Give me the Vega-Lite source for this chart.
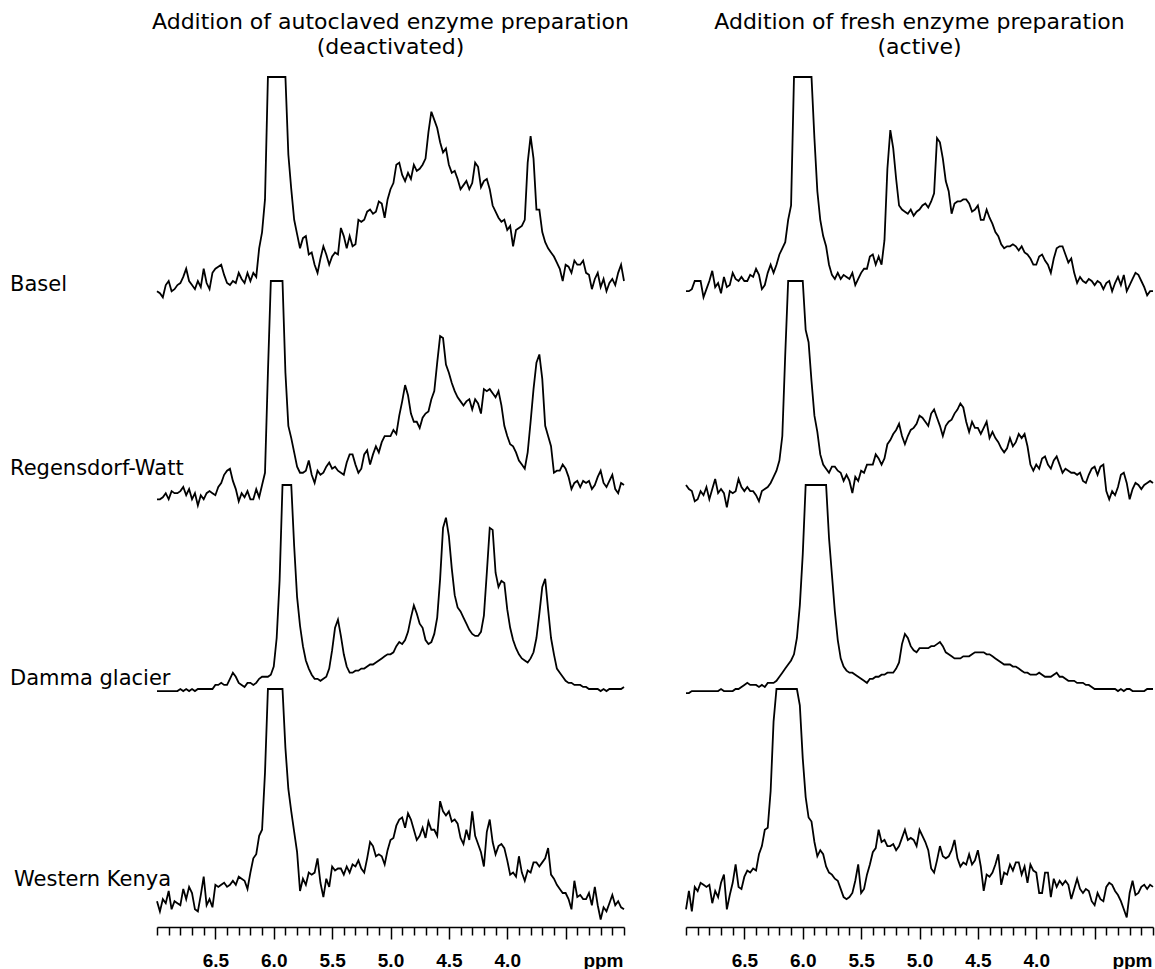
{
  "$schema": "https://vega.github.io/schema/vega-lite/v6.json",
  "background": "white",
  "autosize": {"type": "pad"},
  "padding": {"left": 10, "top": 11, "right": 0, "bottom": 0},
  "config": {
    "view": {"stroke": null},
    "font": "DejaVu Sans",
    "line": {"color": "black", "strokeWidth": 1.8},
    "text": {"color": "black", "font": "DejaVu Sans", "fontSize": 21},
    "title": {"color": "black", "font": "DejaVu Sans", "fontSize": 22, "fontWeight": "normal", "anchor": "middle", "offset": 14, "lineHeight": 25}
  },
  "datasets": {
    "spectra": [
      {"x":7,"b1":-5,"r1":-7,"d1":-1,"k1":-4,"b2":-5,"r2":0,"d2":-2,"k2":-8},
      {"x":6.975,"b1":-6,"r1":-7,"d1":-1,"k1":-9,"b2":-5,"r2":-2,"d2":-2,"k2":1},
      {"x":6.95,"b1":-8,"r1":-6,"d1":-1,"k1":-3,"b2":-4,"r2":-3,"d2":-1,"k2":-9},
      {"x":6.925,"b1":-2,"r1":-4,"d1":-1,"k1":-5,"b2":0,"r2":-8,"d2":-1,"k2":3},
      {"x":6.9,"b1":0,"r1":-7,"d1":-1,"k1":1,"b2":0,"r2":-7,"d2":-1,"k2":1},
      {"x":6.875,"b1":-5,"r1":-3,"d1":-1,"k1":-8,"b2":0,"r2":-3,"d2":-1,"k2":5},
      {"x":6.85,"b1":-4,"r1":-4,"d1":-1,"k1":-4,"b2":-8,"r2":-5,"d2":-1,"k2":4},
      {"x":6.825,"b1":-2,"r1":-4,"d1":-1,"k1":-5,"b2":-4,"r2":-1,"d2":-1,"k2":3},
      {"x":6.8,"b1":-1,"r1":-3,"d1":0,"k1":-6,"b2":0,"r2":-7,"d2":-1,"k2":4},
      {"x":6.775,"b1":2,"r1":-1,"d1":-1,"k1":2,"b2":5,"r2":-2,"d2":-1,"k2":-5},
      {"x":6.75,"b1":6,"r1":-5,"d1":0,"k1":-3,"b2":-3,"r2":3,"d2":-1,"k2":1},
      {"x":6.725,"b1":0,"r1":-2,"d1":-1,"k1":3,"b2":-1,"r2":-4,"d2":-1,"k2":-2},
      {"x":6.7,"b1":-2,"r1":-7,"d1":0,"k1":0,"b2":-6,"r2":-2,"d2":0,"k2":5},
      {"x":6.675,"b1":-4,"r1":-4,"d1":-1,"k1":-8,"b2":2,"r2":-4,"d2":-1,"k2":9},
      {"x":6.65,"b1":0,"r1":-10,"d1":0,"k1":-9,"b2":-3,"r2":-11,"d2":-1,"k2":-8},
      {"x":6.625,"b1":-3,"r1":-5,"d1":0,"k1":-1,"b2":-2,"r2":-3,"d2":-1,"k2":-1},
      {"x":6.6,"b1":6,"r1":-7,"d1":0,"k1":8,"b2":4,"r2":-4,"d2":-1,"k2":5},
      {"x":6.575,"b1":-1,"r1":-4,"d1":0,"k1":-6,"b2":1,"r2":-3,"d2":0,"k2":14},
      {"x":6.55,"b1":-4,"r1":-3,"d1":0,"k1":-3,"b2":0,"r2":3,"d2":0,"k2":3},
      {"x":6.525,"b1":4,"r1":-4,"d1":0,"k1":-7,"b2":2,"r2":-1,"d2":1,"k2":2},
      {"x":6.5,"b1":6,"r1":-5,"d1":2,"k1":4,"b2":0,"r2":-3,"d2":2,"k2":8},
      {"x":6.475,"b1":7,"r1":-1,"d1":2,"k1":3,"b2":0,"r2":-1,"d2":3,"k2":11},
      {"x":6.45,"b1":8,"r1":1,"d1":3,"k1":4,"b2":3,"r2":-3,"d2":2,"k2":10},
      {"x":6.425,"b1":3,"r1":5,"d1":2,"k1":5,"b2":2,"r2":-3,"d2":2,"k2":12},
      {"x":6.4,"b1":-1,"r1":7,"d1":2,"k1":3,"b2":6,"r2":-5,"d2":2,"k2":11},
      {"x":6.375,"b1":-2,"r1":8,"d1":5,"k1":4,"b2":3,"r2":-8,"d2":1,"k2":19},
      {"x":6.35,"b1":0,"r1":2,"d1":8,"k1":6,"b2":-4,"r2":-3,"d2":2,"k2":23},
      {"x":6.325,"b1":-1,"r1":-2,"d1":6,"k1":4,"b2":-2,"r2":-2,"d2":1,"k2":31},
      {"x":6.3,"b1":4,"r1":-8,"d1":3,"k1":8,"b2":4,"r2":-1,"d2":3,"k2":32},
      {"x":6.275,"b1":1,"r1":-4,"d1":2,"k1":7,"b2":8,"r2":1,"d2":3,"k2":50},
      {"x":6.25,"b1":-1,"r1":-6,"d1":1,"k1":6,"b2":4,"r2":4,"d2":3,"k2":84},
      {"x":6.225,"b1":4,"r1":-3,"d1":3,"k1":2,"b2":8,"r2":7,"d2":4,"k2":100},
      {"x":6.2,"b1":0,"r1":-7,"d1":3,"k1":10,"b2":13,"r2":12,"d2":6,"k2":100},
      {"x":6.175,"b1":4,"r1":-7,"d1":2,"k1":17,"b2":16,"r2":24,"d2":8,"k2":100},
      {"x":6.15,"b1":2,"r1":-2,"d1":3,"k1":19,"b2":19,"r2":64,"d2":10,"k2":100},
      {"x":6.125,"b1":16,"r1":-6,"d1":5,"k1":28,"b2":30,"r2":100,"d2":12,"k2":100},
      {"x":6.1,"b1":24,"r1":0,"d1":6,"k1":31,"b2":37,"r2":100,"d2":14,"k2":100},
      {"x":6.075,"b1":40,"r1":6,"d1":6,"k1":59,"b2":100,"r2":100,"d2":17,"k2":100},
      {"x":6.05,"b1":100,"r1":55,"d1":6,"k1":100,"b2":100,"r2":100,"d2":25,"k2":100},
      {"x":6.025,"b1":100,"r1":100,"d1":7,"k1":100,"b2":100,"r2":100,"d2":41,"k2":92},
      {"x":6,"b1":100,"r1":100,"d1":11,"k1":100,"b2":100,"r2":100,"d2":66,"k2":66},
      {"x":5.975,"b1":100,"r1":100,"d1":25,"k1":100,"b2":100,"r2":76,"d2":100,"k2":47},
      {"x":5.95,"b1":100,"r1":100,"d1":53,"k1":100,"b2":100,"r2":70,"d2":100,"k2":37},
      {"x":5.925,"b1":100,"r1":100,"d1":100,"k1":100,"b2":100,"r2":51,"d2":100,"k2":35},
      {"x":5.9,"b1":100,"r1":55,"d1":100,"k1":71,"b2":70,"r2":34,"d2":100,"k2":25},
      {"x":5.875,"b1":62,"r1":29,"d1":100,"k1":51,"b2":44,"r2":26,"d2":100,"k2":18},
      {"x":5.85,"b1":45,"r1":23,"d1":100,"k1":40,"b2":30,"r2":15,"d2":100,"k2":21},
      {"x":5.825,"b1":30,"r1":16,"d1":70,"k1":30,"b2":22,"r2":10,"d2":100,"k2":19},
      {"x":5.8,"b1":23,"r1":9,"d1":45,"k1":20,"b2":17,"r2":8,"d2":100,"k2":13},
      {"x":5.775,"b1":16,"r1":6,"d1":31,"k1":1,"b2":8,"r2":6,"d2":74,"k2":10},
      {"x":5.75,"b1":21,"r1":6,"d1":21,"k1":7,"b2":3,"r2":9,"d2":56,"k2":9},
      {"x":5.725,"b1":22,"r1":7,"d1":14,"k1":4,"b2":1,"r2":9,"d2":38,"k2":7},
      {"x":5.7,"b1":13,"r1":12,"d1":10,"k1":10,"b2":4,"r2":7,"d2":24,"k2":6},
      {"x":5.675,"b1":14,"r1":5,"d1":7,"k1":9,"b2":1,"r2":6,"d2":15,"k2":2},
      {"x":5.65,"b1":8,"r1":1,"d1":5,"k1":10,"b2":3,"r2":2,"d2":11,"k2":-2},
      {"x":5.625,"b1":4,"r1":7,"d1":5,"k1":17,"b2":2,"r2":5,"d2":9,"k2":-3},
      {"x":5.6,"b1":11,"r1":5,"d1":4,"k1":5,"b2":1,"r2":2,"d2":8,"k2":-2},
      {"x":5.575,"b1":17,"r1":6,"d1":5,"k1":-2,"b2":4,"r2":-4,"d2":8,"k2":0},
      {"x":5.55,"b1":13,"r1":9,"d1":6,"k1":7,"b2":-2,"r2":4,"d2":7,"k2":6},
      {"x":5.525,"b1":8,"r1":11,"d1":10,"k1":3,"b2":1,"r2":2,"d2":6,"k2":14},
      {"x":5.5,"b1":12,"r1":8,"d1":19,"k1":13,"b2":4,"r2":7,"d2":5,"k2":0},
      {"x":5.475,"b1":14,"r1":9,"d1":30,"k1":11,"b2":6,"r2":6,"d2":4,"k2":2},
      {"x":5.45,"b1":13,"r1":7,"d1":34,"k1":12,"b2":6,"r2":10,"d2":3,"k2":9},
      {"x":5.425,"b1":26,"r1":6,"d1":26,"k1":12,"b2":12,"r2":10,"d2":5,"k2":14},
      {"x":5.4,"b1":22,"r1":5,"d1":17,"k1":9,"b2":13,"r2":10,"d2":5,"k2":20},
      {"x":5.375,"b1":16,"r1":11,"d1":11,"k1":13,"b2":8,"r2":15,"d2":6,"k2":22},
      {"x":5.35,"b1":22,"r1":15,"d1":8,"k1":10,"b2":12,"r2":13,"d2":6,"k2":31},
      {"x":5.325,"b1":17,"r1":15,"d1":8,"k1":14,"b2":8,"r2":10,"d2":7,"k2":25},
      {"x":5.3,"b1":18,"r1":10,"d1":9,"k1":13,"b2":20,"r2":13,"d2":7,"k2":26},
      {"x":5.275,"b1":30,"r1":6,"d1":9,"k1":16,"b2":55,"r2":20,"d2":8,"k2":23},
      {"x":5.25,"b1":29,"r1":8,"d1":10,"k1":12,"b2":74,"r2":22,"d2":8,"k2":23},
      {"x":5.225,"b1":30,"r1":15,"d1":10,"k1":10,"b2":65,"r2":25,"d2":8,"k2":24},
      {"x":5.2,"b1":34,"r1":17,"d1":11,"k1":17,"b2":50,"r2":27,"d2":10,"k2":21},
      {"x":5.175,"b1":35,"r1":10,"d1":12,"k1":25,"b2":37,"r2":30,"d2":13,"k2":23},
      {"x":5.15,"b1":33,"r1":15,"d1":12,"k1":23,"b2":35,"r2":24,"d2":22,"k2":27},
      {"x":5.125,"b1":34,"r1":19,"d1":13,"k1":18,"b2":34,"r2":20,"d2":27,"k2":31},
      {"x":5.1,"b1":39,"r1":16,"d1":14,"k1":19,"b2":33,"r2":24,"d2":25,"k2":26},
      {"x":5.075,"b1":38,"r1":21,"d1":15,"k1":18,"b2":35,"r2":27,"d2":21,"k2":27},
      {"x":5.05,"b1":31,"r1":24,"d1":16,"k1":14,"b2":32,"r2":28,"d2":19,"k2":26},
      {"x":5.025,"b1":40,"r1":24,"d1":17,"k1":21,"b2":34,"r2":30,"d2":18,"k2":23},
      {"x":5,"b1":45,"r1":24,"d1":17,"k1":26,"b2":35,"r2":34,"d2":20,"k2":31},
      {"x":4.975,"b1":48,"r1":27,"d1":18,"k1":27,"b2":37,"r2":33,"d2":20,"k2":28},
      {"x":4.95,"b1":57,"r1":25,"d1":21,"k1":33,"b2":38,"r2":31,"d2":20,"k2":25},
      {"x":4.925,"b1":58,"r1":34,"d1":23,"k1":36,"b2":36,"r2":29,"d2":20,"k2":21},
      {"x":4.9,"b1":52,"r1":41,"d1":22,"k1":37,"b2":39,"r2":35,"d2":21,"k2":12},
      {"x":4.875,"b1":49,"r1":49,"d1":24,"k1":32,"b2":43,"r2":37,"d2":21,"k2":10},
      {"x":4.85,"b1":53,"r1":44,"d1":28,"k1":39,"b2":70,"r2":33,"d2":22,"k2":16},
      {"x":4.825,"b1":50,"r1":35,"d1":35,"k1":36,"b2":68,"r2":29,"d2":23,"k2":23},
      {"x":4.8,"b1":57,"r1":31,"d1":41,"k1":31,"b2":60,"r2":24,"d2":21,"k2":18},
      {"x":4.775,"b1":54,"r1":31,"d1":37,"k1":26,"b2":49,"r2":29,"d2":18,"k2":17},
      {"x":4.75,"b1":55,"r1":28,"d1":32,"k1":28,"b2":44,"r2":31,"d2":17,"k2":18},
      {"x":4.725,"b1":57,"r1":33,"d1":30,"k1":32,"b2":33,"r2":32,"d2":16,"k2":21},
      {"x":4.7,"b1":60,"r1":35,"d1":24,"k1":27,"b2":38,"r2":35,"d2":15,"k2":26},
      {"x":4.675,"b1":73,"r1":36,"d1":22,"k1":35,"b2":39,"r2":37,"d2":15,"k2":17},
      {"x":4.65,"b1":83,"r1":42,"d1":23,"k1":31,"b2":39,"r2":40,"d2":15,"k2":13},
      {"x":4.625,"b1":79,"r1":46,"d1":27,"k1":31,"b2":40,"r2":38,"d2":16,"k2":15},
      {"x":4.6,"b1":75,"r1":60,"d1":35,"k1":28,"b2":40,"r2":31,"d2":16,"k2":14},
      {"x":4.575,"b1":68,"r1":73,"d1":54,"k1":45,"b2":38,"r2":26,"d2":16,"k2":19},
      {"x":4.55,"b1":63,"r1":72,"d1":79,"k1":40,"b2":34,"r2":31,"d2":17,"k2":14},
      {"x":4.525,"b1":65,"r1":59,"d1":84,"k1":38,"b2":35,"r2":28,"d2":18,"k2":16},
      {"x":4.5,"b1":57,"r1":55,"d1":75,"k1":40,"b2":37,"r2":28,"d2":18,"k2":21},
      {"x":4.475,"b1":53,"r1":50,"d1":59,"k1":35,"b2":30,"r2":25,"d2":18,"k2":13},
      {"x":4.45,"b1":54,"r1":46,"d1":46,"k1":36,"b2":30,"r2":28,"d2":18,"k2":1},
      {"x":4.425,"b1":50,"r1":43,"d1":40,"k1":34,"b2":35,"r2":31,"d2":17,"k2":9},
      {"x":4.4,"b1":45,"r1":41,"d1":38,"k1":27,"b2":31,"r2":23,"d2":17,"k2":8},
      {"x":4.375,"b1":47,"r1":39,"d1":35,"k1":24,"b2":28,"r2":26,"d2":16,"k2":10},
      {"x":4.35,"b1":49,"r1":41,"d1":32,"k1":31,"b2":24,"r2":23,"d2":15,"k2":14},
      {"x":4.325,"b1":45,"r1":42,"d1":29,"k1":26,"b2":22,"r2":21,"d2":14,"k2":19},
      {"x":4.3,"b1":48,"r1":37,"d1":27,"k1":40,"b2":18,"r2":18,"d2":13,"k2":4},
      {"x":4.275,"b1":58,"r1":42,"d1":26,"k1":28,"b2":16,"r2":16,"d2":12,"k2":10},
      {"x":4.25,"b1":56,"r1":40,"d1":26,"k1":24,"b2":17,"r2":18,"d2":12,"k2":9},
      {"x":4.225,"b1":46,"r1":35,"d1":28,"k1":20,"b2":17,"r2":23,"d2":12,"k2":14},
      {"x":4.2,"b1":49,"r1":47,"d1":36,"k1":13,"b2":18,"r2":19,"d2":11,"k2":11},
      {"x":4.175,"b1":50,"r1":46,"d1":57,"k1":30,"b2":17,"r2":21,"d2":11,"k2":15},
      {"x":4.15,"b1":45,"r1":47,"d1":79,"k1":36,"b2":15,"r2":25,"d2":10,"k2":15},
      {"x":4.125,"b1":37,"r1":45,"d1":78,"k1":25,"b2":17,"r2":23,"d2":9,"k2":9},
      {"x":4.1,"b1":34,"r1":43,"d1":57,"k1":19,"b2":14,"r2":25,"d2":8,"k2":13},
      {"x":4.075,"b1":31,"r1":46,"d1":50,"k1":23,"b2":13,"r2":19,"d2":8,"k2":5},
      {"x":4.05,"b1":29,"r1":39,"d1":53,"k1":24,"b2":11,"r2":10,"d2":7,"k2":14},
      {"x":4.025,"b1":30,"r1":29,"d1":52,"k1":22,"b2":8,"r2":7,"d2":7,"k2":11},
      {"x":4,"b1":25,"r1":24,"d1":39,"k1":16,"b2":8,"r2":10,"d2":7,"k2":10},
      {"x":3.975,"b1":27,"r1":20,"d1":30,"k1":9,"b2":12,"r2":8,"d2":8,"k2":0},
      {"x":3.95,"b1":17,"r1":19,"d1":24,"k1":10,"b2":13,"r2":13,"d2":7,"k2":0},
      {"x":3.925,"b1":25,"r1":16,"d1":20,"k1":8,"b2":10,"r2":14,"d2":6,"k2":10},
      {"x":3.9,"b1":26,"r1":12,"d1":17,"k1":18,"b2":8,"r2":10,"d2":6,"k2":10},
      {"x":3.875,"b1":27,"r1":10,"d1":15,"k1":10,"b2":4,"r2":8,"d2":6,"k2":-2},
      {"x":3.85,"b1":30,"r1":8,"d1":14,"k1":6,"b2":11,"r2":12,"d2":7,"k2":7},
      {"x":3.825,"b1":58,"r1":16,"d1":13,"k1":11,"b2":16,"r2":14,"d2":8,"k2":3},
      {"x":3.8,"b1":71,"r1":31,"d1":15,"k1":10,"b2":17,"r2":10,"d2":6,"k2":6},
      {"x":3.775,"b1":60,"r1":47,"d1":18,"k1":15,"b2":17,"r2":6,"d2":6,"k2":4},
      {"x":3.75,"b1":35,"r1":60,"d1":25,"k1":15,"b2":13,"r2":8,"d2":5,"k2":6},
      {"x":3.725,"b1":35,"r1":64,"d1":37,"k1":13,"b2":9,"r2":7,"d2":4,"k2":4},
      {"x":3.7,"b1":24,"r1":52,"d1":50,"k1":15,"b2":11,"r2":6,"d2":4,"k2":-3},
      {"x":3.675,"b1":19,"r1":29,"d1":54,"k1":17,"b2":4,"r2":6,"d2":4,"k2":2},
      {"x":3.65,"b1":16,"r1":24,"d1":39,"k1":22,"b2":-1,"r2":5,"d2":3,"k2":7},
      {"x":3.625,"b1":14,"r1":19,"d1":25,"k1":9,"b2":2,"r2":6,"d2":3,"k2":2},
      {"x":3.6,"b1":12,"r1":6,"d1":17,"k1":7,"b2":0,"r2":2,"d2":3,"k2":0},
      {"x":3.575,"b1":9,"r1":7,"d1":10,"k1":4,"b2":-1,"r2":1,"d2":2,"k2":2},
      {"x":3.55,"b1":6,"r1":7,"d1":8,"k1":2,"b2":1,"r2":5,"d2":2,"k2":1},
      {"x":3.525,"b1":0,"r1":10,"d1":6,"k1":0,"b2":0,"r2":8,"d2":1,"k2":-4},
      {"x":3.5,"b1":8,"r1":8,"d1":4,"k1":0,"b2":-2,"r2":9,"d2":0,"k2":-6},
      {"x":3.475,"b1":7,"r1":4,"d1":3,"k1":-3,"b2":0,"r2":5,"d2":0,"k2":0},
      {"x":3.45,"b1":4,"r1":-2,"d1":3,"k1":-8,"b2":-1,"r2":9,"d2":0,"k2":-3},
      {"x":3.425,"b1":10,"r1":1,"d1":2,"k1":6,"b2":-4,"r2":10,"d2":0,"k2":-4},
      {"x":3.4,"b1":8,"r1":2,"d1":2,"k1":-2,"b2":-1,"r2":-3,"d2":0,"k2":3},
      {"x":3.375,"b1":8,"r1":-1,"d1":2,"k1":-1,"b2":0,"r2":-7,"d2":0,"k2":5},
      {"x":3.35,"b1":10,"r1":2,"d1":1,"k1":-3,"b2":-5,"r2":-3,"d2":0,"k2":4},
      {"x":3.325,"b1":4,"r1":1,"d1":1,"k1":-3,"b2":-1,"r2":-5,"d2":0,"k2":1},
      {"x":3.3,"b1":3,"r1":2,"d1":0,"k1":0,"b2":2,"r2":-1,"d2":-1,"k2":-1},
      {"x":3.275,"b1":-4,"r1":-2,"d1":0,"k1":-6,"b2":-2,"r2":5,"d2":0,"k2":-4},
      {"x":3.25,"b1":1,"r1":0,"d1":0,"k1":3,"b2":3,"r2":6,"d2":-1,"k2":-8},
      {"x":3.225,"b1":4,"r1":4,"d1":0,"k1":-6,"b2":-5,"r2":1,"d2":0,"k2":-12},
      {"x":3.2,"b1":-3,"r1":7,"d1":-1,"k1":-13,"b2":-2,"r2":-7,"d2":0,"k2":0},
      {"x":3.175,"b1":1,"r1":1,"d1":0,"k1":-7,"b2":1,"r2":-2,"d2":-1,"k2":6},
      {"x":3.15,"b1":-5,"r1":-1,"d1":-1,"k1":-9,"b2":4,"r2":1,"d2":-1,"k2":-1},
      {"x":3.125,"b1":-1,"r1":2,"d1":0,"k1":-5,"b2":3,"r2":0,"d2":-1,"k2":0},
      {"x":3.1,"b1":1,"r1":5,"d1":0,"k1":-1,"b2":0,"r2":-2,"d2":-1,"k2":3},
      {"x":3.075,"b1":-2,"r1":-2,"d1":0,"k1":-6,"b2":-3,"r2":0,"d2":-1,"k2":4},
      {"x":3.05,"b1":4,"r1":-4,"d1":0,"k1":-4,"b2":-7,"r2":1,"d2":0,"k2":2},
      {"x":3.025,"b1":8,"r1":1,"d1":0,"k1":-7,"b2":-5,"r2":2,"d2":0,"k2":4},
      {"x":3,"b1":0,"r1":0,"d1":1,"k1":-8,"b2":-5,"r2":1,"d2":0,"k2":3}
    ]
  },
  "hconcat": [
    {
      "bounds": "flush",
      "spacing": 0,
      "vconcat": [
        {
          "width": 467, "height": 204,
          "title": {"text": ["Addition of autoclaved enzyme preparation", "(deactivated)"]},
          "layer": [
            {
              "data": {"name": "spectra"},
              "mark": {"type": "line"},
              "encoding": {
                "x": {"field": "x", "type": "quantitative", "scale": {"domain": [3, 7], "reverse": true, "nice": false, "zero": false}, "axis": null},
                "y": {"field": "b1", "type": "quantitative", "scale": {"domain": [0, 100], "nice": false, "zero": false}, "axis": null}
              }
            },
            {
              "data": {"values": [{}]},
              "mark": {"type": "text", "text": "Basel", "align": "left", "baseline": "middle"},
              "encoding": {"x": {"datum": 8.259}, "y": {"datum": -2}}
            }
          ]
        },
        {
          "width": 467, "height": 204,
          "layer": [
            {
              "data": {"name": "spectra"},
              "mark": {"type": "line"},
              "encoding": {
                "x": {"field": "x", "type": "quantitative", "scale": {"domain": [3, 7], "reverse": true, "nice": false, "zero": false}, "axis": null},
                "y": {"field": "r1", "type": "quantitative", "scale": {"domain": [0, 100], "nice": false, "zero": false}, "axis": null}
              }
            },
            {
              "data": {"values": [{}]},
              "mark": {"type": "text", "text": "Regensdorf-Watt", "align": "left", "baseline": "middle"},
              "encoding": {"x": {"datum": 8.259}, "y": {"datum": 7.8}}
            }
          ]
        },
        {
          "width": 467, "height": 204,
          "layer": [
            {
              "data": {"name": "spectra"},
              "mark": {"type": "line"},
              "encoding": {
                "x": {"field": "x", "type": "quantitative", "scale": {"domain": [3, 7], "reverse": true, "nice": false, "zero": false}, "axis": null},
                "y": {"field": "d1", "type": "quantitative", "scale": {"domain": [0, 100], "nice": false, "zero": false}, "axis": null}
              }
            },
            {
              "data": {"values": [{}]},
              "mark": {"type": "text", "text": "Damma glacier", "align": "left", "baseline": "middle"},
              "encoding": {"x": {"datum": 8.259}, "y": {"datum": 4.9}}
            }
          ]
        },
        {
          "width": 467, "height": 238,
          "resolve": {"axis": {"x": "independent"}},
          "layer": [
            {
              "data": {"name": "spectra"},
              "mark": {"type": "line"},
              "encoding": {
                "x": {
                  "field": "x", "type": "quantitative",
                  "scale": {"domain": [3, 7], "reverse": true, "nice": false, "zero": false},
                  "axis": {
                    "values": [7,6.9,6.8,6.7,6.6,6.5,6.4,6.3,6.2,6.1,6,5.9,5.8,5.7,5.6,5.5,5.4,5.3,5.2,5.1,5,4.9,4.8,4.7,4.6,4.5,4.4,4.3,4.2,4.1,4,3.9,3.8,3.7,3.6,3.5,3.4,3.3,3.2,3.1,3],
                    "labelExpr": "(abs(datum.value * 2 - round(datum.value * 2)) < 0.01 && datum.value > 3.9 && datum.value < 6.6) ? format(datum.value, '.1f') : ''",
                    "tickSize": {"condition": {"test": "abs(datum.value * 2 - round(datum.value * 2)) < 0.01 && datum.value > 3.4 && datum.value < 6.6", "value": 12}, "value": 8},
                    "grid": false,
                    "domainColor": "black", "domainWidth": 1.5,
                    "tickColor": "black", "tickWidth": 1.5,
                    "labelColor": "black", "labelFont": "Liberation Sans", "labelFontSize": 19, "labelFontWeight": "bold",
                    "labelBaseline": "middle", "labelPadding": 21, "labelFlush": false, "labelOverlap": false,
                    "title": "ppm", "titleColor": "black", "titleFont": "Liberation Sans", "titleFontSize": 19, "titleFontWeight": "bold",
                    "titleAnchor": "end", "titleAlign": "right", "titleBaseline": "middle", "titleX": 466, "titleY": 33
                  }
                },
                "y": {"field": "k1", "type": "quantitative", "scale": {"domain": [-16.67, 100], "nice": false, "zero": false}, "axis": null}
              }
            },
            {
              "data": {"values": [{}]},
              "mark": {"type": "text", "text": "Western Kenya", "align": "left", "baseline": "middle"},
              "encoding": {"x": {"datum": 8.225, "axis": null}, "y": {"datum": 6.5}}
            }
          ]
        }
      ]
    },
    {
      "bounds": "flush",
      "spacing": 0,
      "data": {"name": "spectra"},
      "vconcat": [
        {
          "width": 467, "height": 204,
          "title": {"text": ["Addition of fresh enzyme preparation", "(active)"]},
          "mark": {"type": "line"},
          "encoding": {
            "x": {"field": "x", "type": "quantitative", "scale": {"domain": [3, 7], "reverse": true, "nice": false, "zero": false}, "axis": null},
            "y": {"field": "b2", "type": "quantitative", "scale": {"domain": [0, 100], "nice": false, "zero": false}, "axis": null}
          }
        },
        {
          "width": 467, "height": 204,
          "mark": {"type": "line"},
          "encoding": {
            "x": {"field": "x", "type": "quantitative", "scale": {"domain": [3, 7], "reverse": true, "nice": false, "zero": false}, "axis": null},
            "y": {"field": "r2", "type": "quantitative", "scale": {"domain": [0, 100], "nice": false, "zero": false}, "axis": null}
          }
        },
        {
          "width": 467, "height": 204,
          "mark": {"type": "line"},
          "encoding": {
            "x": {"field": "x", "type": "quantitative", "scale": {"domain": [3, 7], "reverse": true, "nice": false, "zero": false}, "axis": null},
            "y": {"field": "d2", "type": "quantitative", "scale": {"domain": [0, 100], "nice": false, "zero": false}, "axis": null}
          }
        },
        {
          "width": 467, "height": 238,
          "mark": {"type": "line"},
          "encoding": {
            "x": {
              "field": "x", "type": "quantitative",
              "scale": {"domain": [3, 7], "reverse": true, "nice": false, "zero": false},
              "axis": {
                "values": [7,6.9,6.8,6.7,6.6,6.5,6.4,6.3,6.2,6.1,6,5.9,5.8,5.7,5.6,5.5,5.4,5.3,5.2,5.1,5,4.9,4.8,4.7,4.6,4.5,4.4,4.3,4.2,4.1,4,3.9,3.8,3.7,3.6,3.5,3.4,3.3,3.2,3.1,3],
                "labelExpr": "(abs(datum.value * 2 - round(datum.value * 2)) < 0.01 && datum.value > 3.9 && datum.value < 6.6) ? format(datum.value, '.1f') : ''",
                "tickSize": {"condition": {"test": "abs(datum.value * 2 - round(datum.value * 2)) < 0.01 && datum.value > 3.4 && datum.value < 6.6", "value": 12}, "value": 8},
                "grid": false,
                "domainColor": "black", "domainWidth": 1.5,
                "tickColor": "black", "tickWidth": 1.5,
                "labelColor": "black", "labelFont": "Liberation Sans", "labelFontSize": 19, "labelFontWeight": "bold",
                "labelBaseline": "middle", "labelPadding": 21, "labelFlush": false, "labelOverlap": false,
                "title": "ppm", "titleColor": "black", "titleFont": "Liberation Sans", "titleFontSize": 19, "titleFontWeight": "bold",
                "titleAnchor": "end", "titleAlign": "right", "titleBaseline": "middle", "titleX": 466, "titleY": 33
              }
            },
            "y": {"field": "k2", "type": "quantitative", "scale": {"domain": [-16.67, 100], "nice": false, "zero": false}, "axis": null}
          }
        }
      ]
    }
  ],
  "spacing": 53
}
